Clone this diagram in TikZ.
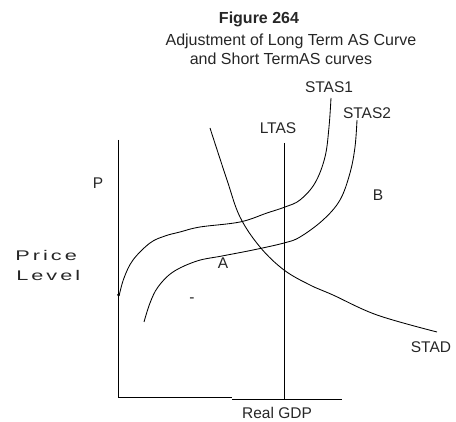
\documentclass[tikz,border=0pt]{standalone}
\usepackage{fontspec}
\setmainfont{Liberation Sans}
\newfontfamily\widefont[LetterSpace=14]{Liberation Sans}
\definecolor{ink}{HTML}{262626}
\tikzset{
  curve/.style={line width=0.85pt, black},
  axis/.style={line width=1pt, black},
  lbl/.style={font=\fontsize{15.5}{17}\selectfont, inner sep=0pt, text=ink},
  ttl/.style={font=\fontsize{16}{18}\selectfont, inner sep=0pt, text=ink},
  side/.style={anchor=west, inner sep=0pt, font=\widefont\fontsize{14}{16}\selectfont, xscale=1.55, text=ink},
}
\begin{document}
\begin{tikzpicture}[x=1pt,y=-1pt]
\useasboundingbox (0,0) rectangle (456,422);
% axes
\coordinate (ytop) at (118,140);
\coordinate (orig) at (118,398);
\coordinate (xstep) at (232,398);
\coordinate (xstepb) at (232,400);
\coordinate (xend) at (342,400);
\coordinate (ltop) at (284,143);
\coordinate (lbot) at (284,400);
\draw[axis] (ytop) -- (orig) -- (xstep);
\draw[axis] (xstepb) -- (xend);
\draw[axis] (ltop) -- (lbot);
% STAS1
\draw[curve] plot[smooth, tension=0.6] coordinates {(331,98) (329,127) (325,157) (315,183) (300,200) (285,207) (267,213) (240,222) (200,227) (180,232) (165,236) (150,243) (133,260) (124,278) (119,296)};
\fill (118.5,295) circle (1.5);
% STAS2
\draw[curve] plot[smooth, tension=0.6] coordinates {(357,120) (355,147) (350,173) (340,200) (323,220) (300,237) (284,243) (253,250) (222,256) (197,261) (173,272) (158,287) (150,303) (144,322)};
% STAD
\draw[curve] plot[smooth, tension=0.6] coordinates {(210,128) (227,180) (240,217) (260,247) (284,270) (310,285) (333,295) (377,315) (437,332)};
% labels
\node[ttl, font=\bfseries\fontsize{16}{18}\selectfont] (fig) at (259,19) {Figure 264};
\node[ttl] (t2) at (291,41) {Adjustment of Long Term AS Curve};
\node[ttl] (t3) at (281,59) {and Short TermAS curves};
\node[lbl] (s1) at (329,87) {STAS1};
\node[lbl] (s2) at (367,113) {STAS2};
\node[lbl] (lt) at (278,128) {LTAS};
\node[lbl] (p) at (98,183) {P};
\node[lbl] (b) at (378,195) {B};
\node[lbl] (a) at (223,263) {A};
\node[lbl] (dash) at (192,300) {-};
\node[lbl] (stad) at (431,347) {STAD};
\node[lbl] (gdp) at (277,413) {Real GDP};
\node[side] (pr) at (15,255) {Price};
\node[side] (lv) at (16,275) {Level};
\end{tikzpicture}
\end{document}
